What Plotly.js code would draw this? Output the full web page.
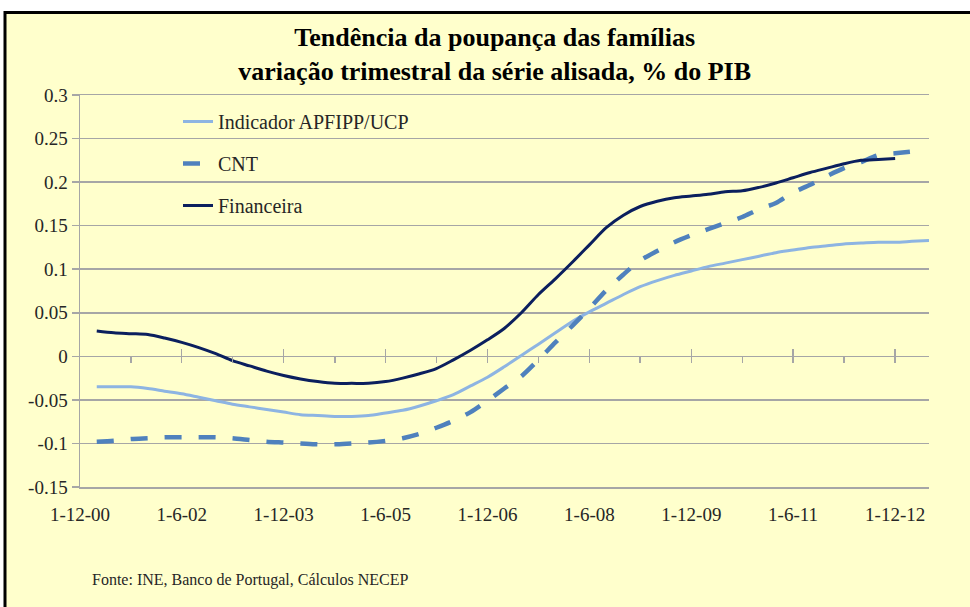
<!DOCTYPE html>
<html>
<head>
<meta charset="utf-8">
<script src="https://cdn.plot.ly/plotly-3.0.1.min.js"></script>
<style>
html,body{margin:0;padding:0;background:#ffffff;}
#chart{width:970px;height:607px;}
</style>
</head>
<body>
<div id="chart"></div>
<script>
var quarters = [
  '2001-03-01','2001-06-01','2001-09-01','2001-12-01',
  '2002-03-01','2002-06-01','2002-09-01','2002-12-01',
  '2003-03-01','2003-06-01','2003-09-01','2003-12-01',
  '2004-03-01','2004-06-01','2004-09-01','2004-12-01',
  '2005-03-01','2005-06-01','2005-09-01','2005-12-01',
  '2006-03-01','2006-06-01','2006-09-01','2006-12-01',
  '2007-03-01','2007-06-01','2007-09-01','2007-12-01',
  '2008-03-01','2008-06-01','2008-09-01','2008-12-01',
  '2009-03-01','2009-06-01','2009-09-01','2009-12-01',
  '2010-03-01','2010-06-01','2010-09-01','2010-12-01',
  '2011-03-01','2011-06-01','2011-09-01','2011-12-01',
  '2012-03-01','2012-06-01','2012-09-01','2012-12-01',
  '2013-03-01','2013-06-01'
];
var apfipp = [
  -0.035,-0.035,-0.035,-0.037,
  -0.040,-0.043,-0.047,-0.051,
  -0.055,-0.058,-0.061,-0.064,
  -0.067,-0.068,-0.069,-0.069,
  -0.068,-0.065,-0.062,-0.057,
  -0.051,-0.044,-0.034,-0.024,
  -0.012,0.001,0.014,0.027,
  0.040,0.051,0.061,0.071,
  0.080,0.087,0.093,0.098,
  0.103,0.107,0.111,0.115,
  0.119,0.122,0.125,0.127,
  0.129,0.130,0.131,0.131,
  0.132,0.133
];
var cnt = [
  -0.098,-0.097,-0.095,-0.094,
  -0.093,-0.093,-0.093,-0.093,
  -0.094,-0.096,-0.098,-0.099,
  -0.100,-0.101,-0.101,-0.100,
  -0.099,-0.097,-0.094,-0.089,
  -0.082,-0.074,-0.064,-0.051,
  -0.037,-0.023,-0.004,0.016,
  0.035,0.055,0.076,0.094,
  0.110,0.121,0.131,0.139,
  0.146,0.153,0.160,0.169,
  0.176,0.188,0.197,0.207,
  0.216,0.223,0.231,0.233,
  0.235
];
var financeira = [
  0.029,0.027,0.026,0.025,
  0.021,0.016,0.010,0.003,
  -0.005,-0.011,-0.017,-0.022,
  -0.026,-0.029,-0.031,-0.031,
  -0.031,-0.029,-0.025,-0.020,
  -0.014,-0.004,0.007,0.019,
  0.032,0.050,0.071,0.089,
  0.108,0.128,0.148,0.162,
  0.172,0.178,0.182,0.184,
  0.186,0.189,0.190,0.194,
  0.199,0.205,0.211,0.216,
  0.221,0.225,0.226,0.227
];
var seriesNames = ['Indicador APFIPP/UCP','CNT','Financeira'];
var xTickVals = ['2000-12-01','2002-06-01','2003-12-01','2005-06-01','2006-12-01','2008-06-01','2009-12-01','2011-06-01','2012-12-01'];
var xTickText = ['1-12-00','1-6-02','1-12-03','1-6-05','1-12-06','1-6-08','1-12-09','1-6-11','1-12-12'];
var yTickVals = [-0.15,-0.1,-0.05,0,0.05,0.1,0.15,0.2,0.25,0.3];
var yTickText = ['-0.15','-0.1','-0.05','0','0.05','0.1','0.15','0.2','0.25','0.3'];

var serif = '"Liberation Serif", "Liberation Sans", serif';
var grid = '#A6A6A6';
var bg = '#FFFFCC';

var traces = [
  {x: quarters.slice(0, apfipp.length), y: apfipp, name: seriesNames[0], type: 'scatter', mode: 'lines',
   legendgroup: 'g1', line: {color: '#8DB4E2', width: 3, shape: 'spline', smoothing: 0.8}},
  {x: quarters.slice(0, cnt.length), y: cnt, name: seriesNames[1], type: 'scatter', mode: 'lines',
   legendgroup: 'g2', line: {color: '#4F81BD', width: 4.5, dash: '17px,17px', shape: 'spline', smoothing: 0.8}},
  {x: quarters.slice(0, financeira.length), y: financeira, name: seriesNames[2], type: 'scatter', mode: 'lines',
   xaxis: 'x2', legendgroup: 'g3', line: {color: '#0B1F5E', width: 3, shape: 'spline', smoothing: 0.8}}
];

var L = 80, R = 41, T = 95, B = 120;
var pw = 970 - L - R, ph = 607 - T - B;

var layout = {
  width: 970, height: 607,
  margin: {l: L, r: R, t: T, b: B, pad: 0},
  paper_bgcolor: '#ffffff',
  plot_bgcolor: bg,
  font: {family: serif, color: '#262626', size: 19},
  title: {
    text: '<b>Tendência da poupança das famílias<br>variação trimestral da série alisada, % do PIB</b>',
    font: {family: serif, size: 26, color: '#000000'},
    x: 0.51, xref: 'container', xanchor: 'center',
    y: 1 - 46 / 607, yref: 'container', yanchor: 'middle'
  },
  showlegend: true,
  legend: {
    x: (178 - L) / pw, xanchor: 'left',
    y: (T + ph - 102) / ph, yanchor: 'top',
    bgcolor: 'rgba(0,0,0,0)',
    font: {family: serif, size: 20, color: '#262626'},
    tracegroupgap: 13, itemwidth: 30
  },
  xaxis: {
    type: 'date', range: ['2000-12-01', '2013-06-01'],
    tickmode: 'array', tickvals: xTickVals, ticktext: xTickText,
    showgrid: false, zeroline: false,
    showline: true, mirror: true, linecolor: grid, linewidth: 1.5,
    ticks: '', ticklabelstandoff: 10,
    tickfont: {family: serif, size: 19, color: '#262626'}
  },
  xaxis2: {
    type: 'date', overlaying: 'x', anchor: 'free', position: 1 / 3, matches: 'x',
    range: ['2000-12-01', '2013-06-01'],
    tickmode: 'linear', tick0: '2000-12-01', dtick: 'M18',
    ticks: 'inside', ticklen: 7, tickwidth: 1.5, tickcolor: grid,
    showticklabels: false, showgrid: false, zeroline: false, showline: false,
    minor: {tickmode: 'linear', tick0: '2000-12-01', dtick: 'M9', ticks: 'outside', ticklen: 6, tickwidth: 1.5, tickcolor: grid, showgrid: false}
  },
  yaxis: {
    range: [-0.15, 0.3],
    tickmode: 'array', tickvals: yTickVals, ticktext: yTickText,
    showgrid: true, gridcolor: grid, gridwidth: 1.5,
    zeroline: true, zerolinecolor: grid, zerolinewidth: 1.5,
    showline: true, linecolor: grid, linewidth: 1.5,
    ticks: 'outside', ticklen: 7, tickwidth: 1.5, tickcolor: grid,
    tickfont: {family: serif, size: 19, color: '#262626'}
  },
  shapes: [
    {type: 'rect', xref: 'paper', yref: 'paper', layer: 'below',
     x0: (5 - L) / pw, x1: (980 - L) / pw,
     y0: (T + ph - 620) / ph, y1: (T + ph - 12.5) / ph,
     fillcolor: bg, line: {color: '#000000', width: 3}}
  ],
  annotations: [
    {text: 'Fonte: INE, Banco de Portugal, Cálculos NECEP', xref: 'paper', yref: 'paper',
     x: (90 - L) / pw, xanchor: 'left', y: (T + ph - 580) / ph, yanchor: 'middle',
     showarrow: false, font: {family: serif, size: 16, color: '#262626'}}
  ]
};

Plotly.newPlot('chart', traces, layout, {displayModeBar: false, staticPlot: true});
</script>
</body>
</html>
